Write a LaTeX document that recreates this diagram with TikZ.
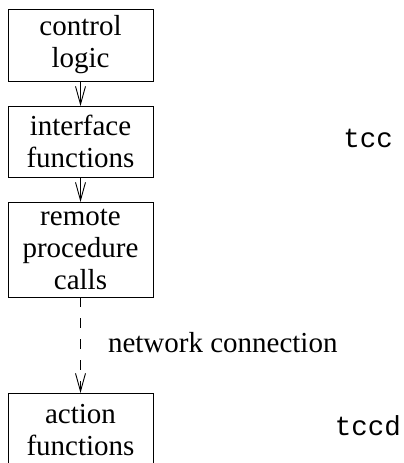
\documentclass[tikz,border=0pt]{standalone}
\usepackage{fontspec}
\setmainfont{Liberation Serif}
\setmonofont{Liberation Mono}
\usetikzlibrary{arrows.meta}
\begin{document}
\begin{tikzpicture}[x=1pt,y=-1pt,
  every node/.style={inner sep=0pt,outer sep=0pt},
  box/.style={draw,line width=0.9pt,minimum width=145pt,align=center,
    font=\fontsize{29}{32}\selectfont},
  lbl/.style={font=\fontsize{29}{32}\selectfont},
  mono/.style={font=\fontsize{27.5}{32}\selectfont\ttfamily},
  conn/.style={line width=0.9pt,-{Straight Barb[length=18pt,width=10pt,line width=0.9pt]}}]
\useasboundingbox (0,0) rectangle (404,463);
\node[box,minimum height=72pt] (cl) at (80.5,45) {control\\logic};
\node[box,minimum height=71pt] (if) at (80.5,141.5) {interface\\functions};
\node[box,minimum height=95pt] (rpc) at (80.5,249.5) {remote\\procedure\\calls};
\node[box,minimum height=74pt] (af) at (80.5,430) {action\\functions};
\draw[conn] (cl) -- (if);
\draw[conn] (if) -- (rpc);
\draw[conn,dash pattern=on 10pt off 11pt] (rpc) -- (af);
\node[lbl,anchor=base west] (net) at (108,352) {network connection};
\node[mono,anchor=base] (tcc) at (368,147) {tcc};
\node[mono,anchor=base] (tccd) at (368,435) {tccd};
\end{tikzpicture}
\end{document}
